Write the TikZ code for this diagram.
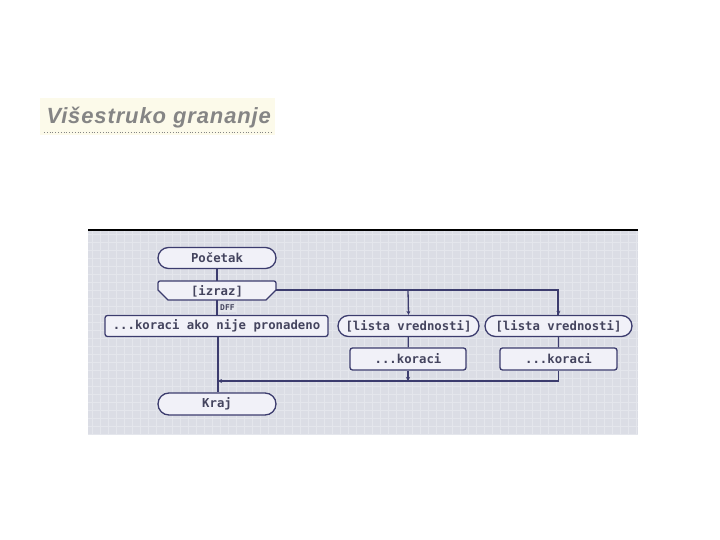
\documentclass[tikz,border=0pt]{standalone}
\usepackage{fontspec}
\setmainfont{Liberation Sans}
\newfontfamily\monofnt{DejaVu Sans Mono}
\usetikzlibrary{arrows.meta,shapes.misc}
\definecolor{panelbg}{HTML}{DBDDE5}
\definecolor{gridc}{HTML}{E4E6EC}
\definecolor{navy}{HTML}{3C3C6E}
\definecolor{nodefill}{HTML}{F1F1F8}
\definecolor{txt}{HTML}{44445E}
\definecolor{titlebg}{HTML}{FCFAEA}
\definecolor{titlec}{HTML}{858585}
\tikzset{
  base/.style={draw=navy, line width=1.3pt, fill=nodefill, text=txt, font=\monofnt\bfseries\fontsize{12.3}{13}\selectfont, inner sep=0pt, minimum height=21pt},
  stadium/.style={base, rounded rectangle},
  rbox/.style={base, rounded corners=2.5pt, rectangle},
  conn/.style={draw=navy, line width=1.3pt},
  arr/.style={conn, -{Stealth[length=4pt,width=4pt]}}
}
\begin{document}
\begin{tikzpicture}[x=1pt,y=-1pt]
\useasboundingbox (0,0) rectangle (720,540);
\fill[white] (0,0) rectangle (720,540);
% title
\fill[titlebg] (40,98) rectangle (275,135);
\node[anchor=west, text=titlec, font=\fontsize{22}{24}\selectfont\bfseries\itshape\addfontfeatures{LetterSpace=4}] (title) at (43,118) {Višestruko grananje};
\draw[titlec, line width=0.8pt, dotted] (44,132) -- (273,132);
% panel
\fill[panelbg] (88,230) rectangle (638,435);
\begin{scope}
\clip (88,231) rectangle (638,435);
\foreach \x in {92,100,...,638} \draw[gridc, line width=0.5pt] (\x,231) -- (\x,435);
\foreach \y in {234,242,...,435} \draw[gridc, line width=0.5pt] (88,\y) -- (638,\y);
\end{scope}
\draw[black, line width=1.2pt] (88,230) -- (638,230);
% nodes
\node[stadium, minimum width=118pt] (start) at (217,258) {Početak};
\path[base] (158,281) [rounded corners=2pt] -- (276,281) [sharp corners] -- (276,290) -- (266,300) -- (168,300) -- (158,290) [rounded corners=2pt] -- cycle;
\node[inner sep=0pt, text=txt, font=\monofnt\bfseries\fontsize{12.3}{13}\selectfont] (izraz) at (217,291) {[izraz]};
\coordinate (izt) at (217,281);
\coordinate (izb) at (217,300);
\coordinate (izr) at (276,290);
\node[rbox, minimum width=223pt] (nf) at (216.5,326) {...koraci ako nije pronadeno};
\node[stadium, minimum width=141pt] (l1) at (408.5,326) {[lista vrednosti]};
\node[stadium, minimum width=147pt] (l2) at (558.5,326) {[lista vrednosti]};
\node[rbox, minimum width=116pt, minimum height=22pt] (k1) at (408,359) {...koraci};
\node[rbox, minimum width=117pt, minimum height=22pt] (k2) at (558.5,359) {...koraci};
\node[stadium, minimum width=118pt, minimum height=22pt] (kraj) at (217,404) {Kraj};
% connectors
\draw[conn] (start) -- (izt);
\draw[conn] (izb) -- (nf.north -| izb);
\node[fill=gridc, inner sep=1pt, text=txt, font=\monofnt\bfseries\fontsize{8}{9}\selectfont, anchor=west] (dff) at (219,308) {DFF};
\draw[conn] (izr) -- (558,290) -- (558,315);
\draw[arr] (408,290) -- (l1.north);
\draw[arr] (558,300) -- (l2.north);
\draw[conn] (l1) -- (k1);
\draw[conn] (l2) -- (k2);
\coordinate (m1) at (408,381);
\coordinate (m0) at (218,381);
\draw[arr] (k1.south) -- (m1);
\draw[arr] (k2.south) |- (m0);
\draw[conn] (nf.south -| m0) -- (kraj.north -| m0);
\end{tikzpicture}
\end{document}
